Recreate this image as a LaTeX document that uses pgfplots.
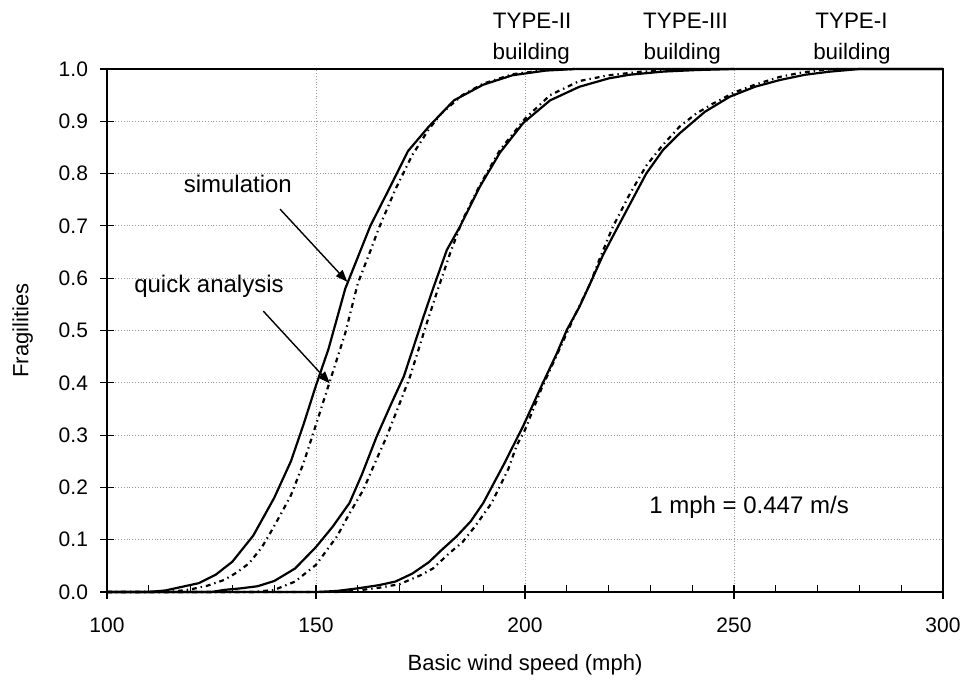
\documentclass[border=0pt]{standalone}
\usepackage{fontspec}
\setmainfont{Liberation Sans}
\usepackage{pgfplots}
\pgfplotsset{compat=1.18}
\usetikzlibrary{arrows.meta}

\begin{document}
\begin{tikzpicture}
\begin{axis}[
  scale only axis, width=418pt, height=261.5pt,
  xmin=100, xmax=300, ymin=0, ymax=1,
  xtick={100,150,200,250,300},
  ytick={0,0.1,0.2,0.3,0.4,0.5,0.6,0.7,0.8,0.9,1.0},
  yticklabel style={xshift=-2.5pt, /pgf/number format/.cd, fixed, fixed zerofill, precision=1},
  /pgf/number format/assume math mode=true,
  tick label style={font=\fontsize{10.5}{12}\selectfont},
  xticklabel style={yshift=-6pt},
  tick pos=left,
  minor x tick num=4,
  tick align=center, major tick length=7pt, minor tick length=3.5pt,
  minor tick style={yshift=1.75pt},
  tick style={black, line width=0.6pt},
  axis line style={line width=0.6pt},
  grid=major, major grid style={densely dotted, black!40, line width=0.5pt},
  xlabel={Basic wind speed (mph)},
  ylabel={Fragilities},
  label style={font=\fontsize{11}{13}\selectfont},
  xlabel style={at={(axis description cs:0.5,-0.14)}, anchor=center},
  ylabel style={at={(axis description cs:-0.101,0.5)}, anchor=center},
  clip=false,
  sim/.style={black, line width=1.1pt},
  qa/.style={black, line width=1.1pt, dash pattern=on 2.4pt off 2pt on 0.7pt off 2pt},
]
% TYPE-II simulation
\addplot[sim] coordinates {(100,0) (110,0) (114,0.003) (118,0.010) (122,0.017) (126,0.033) (130,0.058) (135,0.108) (140,0.180) (144,0.250) (147,0.320) (150,0.395) (153,0.465) (157,0.580) (160,0.640) (163,0.700) (167,0.763) (172,0.843) (177,0.890) (183,0.940) (190,0.970) (197,0.988) (205,0.997) (212,1.0) (300,1.0)};
% TYPE-II quick analysis
\addplot[qa] coordinates {(100,0) (115,0) (120,0.005) (124,0.012) (128,0.023) (131,0.037) (134,0.055) (137,0.085) (139,0.112) (142,0.155) (144,0.185) (147,0.246) (150,0.320) (153,0.395) (157,0.495) (160,0.590) (163,0.652) (165,0.695) (169,0.770) (173,0.835) (177,0.885) (180,0.915) (185,0.950) (190,0.972) (197,0.990) (205,0.998) (212,1.0)};
% TYPE-III simulation
\addplot[sim] coordinates {(100,0) (125,0) (128,0.004) (132,0.007) (136,0.011) (140,0.021) (145,0.045) (150,0.086) (154,0.125) (158,0.170) (161,0.225) (164.5,0.297) (168,0.360) (171,0.412) (175.7,0.526) (178,0.580) (181.3,0.654) (184.4,0.698) (189.2,0.775) (194,0.840) (199.6,0.897) (206,0.940) (213,0.966) (220,0.982) (225,0.989) (233,0.995) (241,0.998) (250,1.0)};
% TYPE-III quick analysis
\addplot[qa] coordinates {(100,0) (135,0) (140,0.004) (145,0.020) (150,0.052) (155,0.106) (158,0.150) (161.3,0.195) (164,0.245) (166.9,0.297) (169.5,0.350) (172.5,0.412) (176.5,0.514) (179,0.575) (182.1,0.648) (185,0.710) (189,0.775) (194,0.845) (200,0.905) (206,0.950) (213,0.977) (220,0.988) (228,0.995) (240,1.0)};
% TYPE-I simulation
\addplot[sim] coordinates {(100,0) (150,0) (155,0.002) (160,0.007) (165,0.013) (169,0.020) (173,0.035) (177,0.057) (180,0.080) (183.6,0.106) (187,0.135) (190,0.170) (195,0.245) (199.6,0.318) (204,0.395) (207.6,0.456) (210,0.501) (213,0.545) (215.6,0.590) (218.7,0.645) (222,0.695) (226,0.755) (229,0.800) (233,0.845) (237,0.877) (243,0.918) (249,0.947) (255,0.966) (261,0.979) (267,0.989) (273,0.995) (280,1.0) (300,1.0)};
% TYPE-I quick analysis
\addplot[qa] coordinates {(100,0) (155,0) (160,0.003) (165,0.008) (170,0.015) (175,0.032) (178,0.045) (182,0.075) (185,0.095) (188,0.125) (192,0.170) (196,0.235) (198,0.280) (200,0.310) (204,0.390) (208,0.460) (212,0.530) (215.6,0.590) (218,0.640) (221,0.698) (225,0.760) (229,0.815) (233,0.855) (237,0.890) (241,0.915) (245,0.934) (250,0.955) (255,0.970) (261,0.985) (266,0.993) (271,0.998) (275,1.0)};

% annotations
\node[anchor=base, font=\fontsize{11.2}{13}\selectfont] at (axis cs:201.7,1.0765) {TYPE-II};
\node[anchor=base, font=\fontsize{11.2}{13}\selectfont] at (axis cs:201.5,1.019) {building};
\node[anchor=base, font=\fontsize{11.2}{13}\selectfont] at (axis cs:238.4,1.0765) {TYPE-III};
\node[anchor=base, font=\fontsize{11.2}{13}\selectfont] at (axis cs:237.6,1.019) {building};
\node[anchor=base, font=\fontsize{11.2}{13}\selectfont] at (axis cs:278.1,1.0765) {TYPE-I};
\node[anchor=base, font=\fontsize{11.2}{13}\selectfont] at (axis cs:278.2,1.019) {building};
\node[anchor=base, font=\fontsize{12}{14}\selectfont] at (axis cs:253.6,0.151) {1 mph = 0.447 m/s};
\node[anchor=base, font=\fontsize{12}{14}\selectfont] at (axis cs:131.3,0.763) {simulation};
\node[anchor=base, font=\fontsize{12}{14}\selectfont] at (axis cs:124.4,0.572) {quick analysis};
\draw[line width=0.7pt, -{Triangle[length=6pt,width=4.5pt]}] (axis cs:141.4,0.732) -- (axis cs:157.5,0.593);
\draw[line width=0.7pt, -{Triangle[length=6pt,width=4.5pt]}] (axis cs:137.4,0.537) -- (axis cs:153.3,0.399);
\end{axis}
\pgfresetboundingbox
\useasboundingbox (-53.5pt,-46.5pt) rectangle (430.5pt,296pt);
\end{tikzpicture}
\end{document}
